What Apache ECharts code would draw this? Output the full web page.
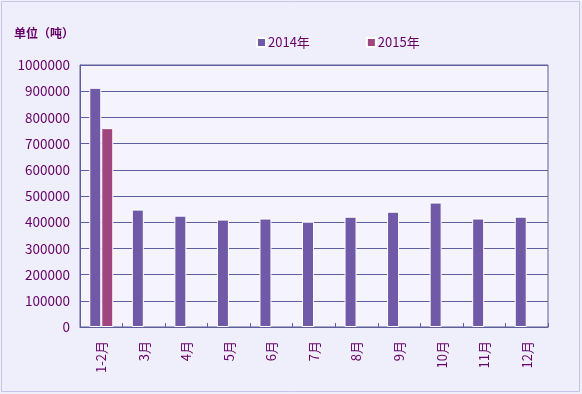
<!DOCTYPE html>
<html>
<head>
<meta charset="utf-8">
<script src="https://cdn.jsdelivr.net/npm/echarts@6/dist/echarts.min.js"></script>
<style>
html,body{margin:0;padding:0;background:#EFEEFB;}
#c{width:582px;height:394px;}
</style>
</head>
<body>
<div id="c"></div>
<script>
var categories = ['1-2月','3月','4月','5月','6月','7月','8月','9月','10月','11月','12月'];
var series2014 = [913000, 448000, 425000, 410000, 414000, 402000, 421000, 440000, 475000, 414000, 421000];
var series2015 = [759000, null, null, null, null, null, null, null, null, null, null];
var seriesNames = ['2014年', '2015年'];
var unitLabel = '单位（吨）';

var textColor = '#660066';
var lineColor = '#5E5E9C';
var font = '"Noto Sans CJK SC", sans-serif';

var chart = echarts.init(document.getElementById('c'));
chart.setOption({
  animation: false,
  backgroundColor: '#EFEEFB',
  graphic: [
    {type: 'rect', shape: {x: 1.5, y: 1.5, width: 578, height: 390},
     style: {fill: 'none', stroke: '#C5C5EC', lineWidth: 1}, silent: true},
    {type: 'text', left: 14, top: 27,
     style: {text: unitLabel, fill: textColor, font: 'bold 12px ' + font}}
  ],
  legend: {
    top: 31,
    left: 251,
    itemWidth: 9,
    itemHeight: 9,
    itemGap: 56,
    icon: 'rect',
    textStyle: {color: textColor, fontSize: 13, fontFamily: font, padding: [0, 0, 0, -3]},
    data: seriesNames
  },
  grid: {
    left: 80, right: 34, top: 65, bottom: 67,
    show: true, backgroundColor: '#F4F3FE', borderColor: lineColor, borderWidth: 1
  },
  xAxis: {
    type: 'category',
    data: categories,
    axisLine: {lineStyle: {color: lineColor, width: 1}},
    axisTick: {show: true, inside: true, length: 4, lineStyle: {color: lineColor}},
    axisLabel: {rotate: 90, color: textColor, fontSize: 13, fontFamily: font, margin: 14}
  },
  yAxis: {
    type: 'value',
    min: 0, max: 1000000, interval: 100000,
    axisLine: {show: true, lineStyle: {color: lineColor}},
    axisTick: {show: false},
    splitLine: {lineStyle: {color: lineColor, width: 1}},
    axisLabel: {color: textColor, fontSize: 13.5, fontFamily: font, margin: 10,
      formatter: function (v) { return String(v); }}
  },
  series: [
    {name: seriesNames[0], type: 'bar', data: series2014, barWidth: 12, barGap: '0%',
     itemStyle: {color: '#7059A6', borderColor: '#FFFFFF', borderWidth: 1}},
    {name: seriesNames[1], type: 'bar', data: series2015, barWidth: 12, barGap: '0%',
     itemStyle: {color: '#A0467F', borderColor: '#FFFFFF', borderWidth: 1}}
  ]
});
</script>
</body>
</html>
